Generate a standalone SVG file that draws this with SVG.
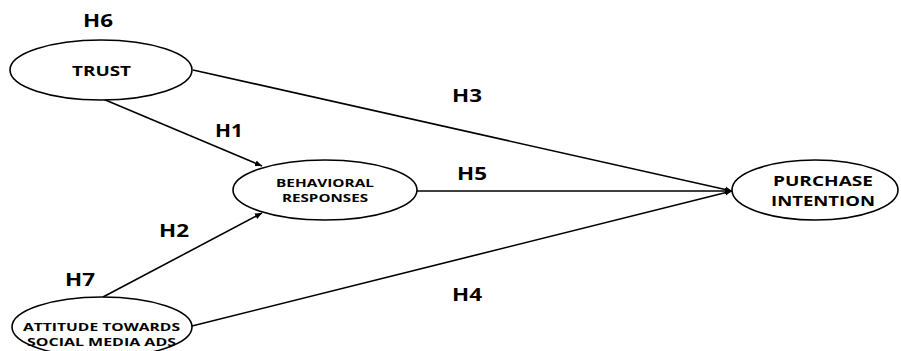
<svg xmlns="http://www.w3.org/2000/svg" width="901" height="351" viewBox="0 0 901 351">
<style>
.node{fill:#fff;stroke:#000;stroke-width:1.6}
.t{font-family:"Open Sans","Liberation Sans",sans-serif;font-weight:bold;fill:#000;text-anchor:middle}
.h{font-size:17px}
.c{stroke:#000;stroke-width:1.6;fill:none;marker-end:url(#ah)}
</style>
<defs>
<marker id="ah" markerWidth="8" markerHeight="8" refX="7" refY="4" orient="auto" markerUnits="userSpaceOnUse">
<path d="M0,1 L7,4 L0,7 z" fill="#000"/>
</marker>
</defs>
<rect width="901" height="351" fill="#fff"/>
<g id="connectors">
<line class="c" x1="193" y1="70" x2="732" y2="191"/>
<line class="c" x1="103" y1="99" x2="262" y2="166"/>
<line class="c" x1="103" y1="297" x2="262" y2="213"/>
<line class="c" x1="417" y1="191" x2="732" y2="191"/>
<line class="c" x1="192" y1="326" x2="732" y2="191"/>
</g>
<g id="trust">
<ellipse class="node" cx="101" cy="70" rx="91" ry="30"/>
<text class="t" x="101.5" y="76" font-size="15" textLength="59" lengthAdjust="spacingAndGlyphs">TRUST</text>
</g>
<g id="behavioral">
<ellipse class="node" cx="325" cy="190" rx="92" ry="30"/>
<text class="t" x="325" y="187" font-size="11" textLength="98" lengthAdjust="spacingAndGlyphs">BEHAVIORAL</text>
<text class="t" x="325" y="202" font-size="11" textLength="86" lengthAdjust="spacingAndGlyphs">RESPONSES</text>
</g>
<g id="attitude">
<ellipse class="node" cx="102" cy="327" rx="90" ry="30"/>
<text class="t" x="101.5" y="331" font-size="11" textLength="157" lengthAdjust="spacingAndGlyphs">ATTITUDE TOWARDS</text>
<text class="t" x="101.5" y="346" font-size="11" textLength="149" lengthAdjust="spacingAndGlyphs">SOCIAL MEDIA ADS</text>
</g>
<g id="purchase">
<ellipse class="node" cx="815" cy="190" rx="83" ry="30"/>
<text class="t" x="823" y="186" font-size="15" textLength="100" lengthAdjust="spacingAndGlyphs">PURCHASE</text>
<text class="t" x="823" y="206" font-size="15" textLength="104" lengthAdjust="spacingAndGlyphs">INTENTION</text>
</g>
<g id="labels">
<text class="t h" x="98" y="27" textLength="30" lengthAdjust="spacingAndGlyphs">H6</text>
<text class="t h" x="229" y="137" textLength="28" lengthAdjust="spacingAndGlyphs">H1</text>
<text class="t h" x="467" y="102" textLength="30" lengthAdjust="spacingAndGlyphs">H3</text>
<text class="t h" x="472" y="180" textLength="30" lengthAdjust="spacingAndGlyphs">H5</text>
<text class="t h" x="174" y="237" textLength="30" lengthAdjust="spacingAndGlyphs">H2</text>
<text class="t h" x="80" y="286" textLength="30" lengthAdjust="spacingAndGlyphs">H7</text>
<text class="t h" x="467" y="301" textLength="30" lengthAdjust="spacingAndGlyphs">H4</text>
</g>
</svg>
